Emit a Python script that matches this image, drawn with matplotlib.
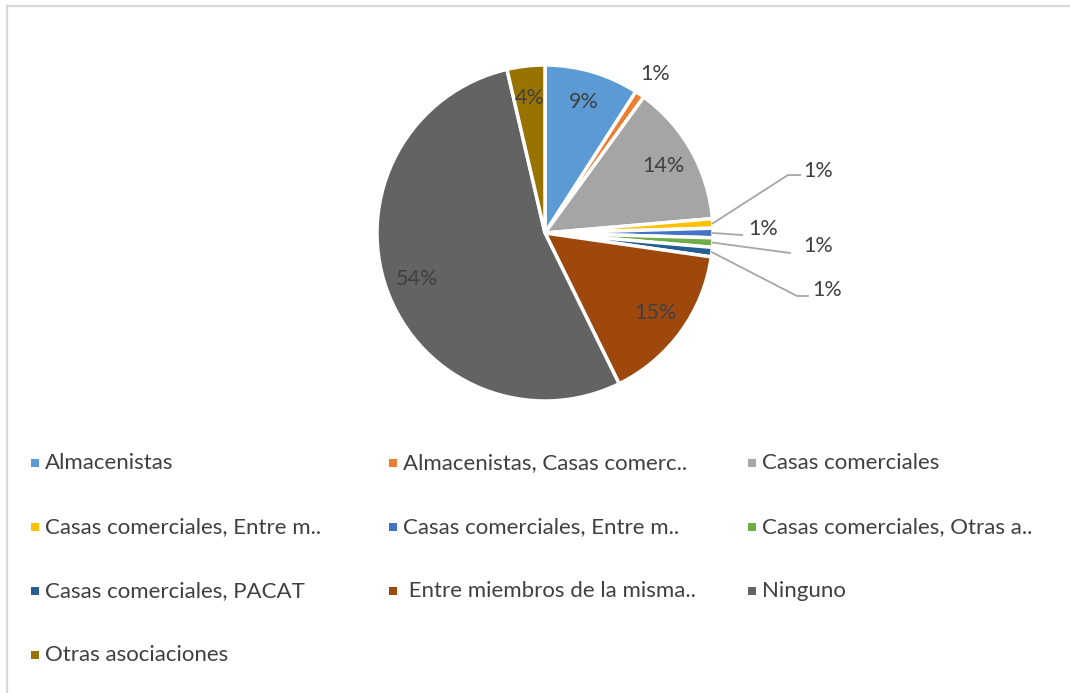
#-  Python 3 source code

#-  plot.py ~~
#
#   Pie chart of who the producers sell to / work with, redrawn from an
#   Excel-style picture: slices start at 12 o'clock and run clockwise,
#   small slices get their labels outside with leader lines.

import numpy as np
import matplotlib
matplotlib.use("Agg")
import matplotlib.pyplot as pyplot
from matplotlib.lines import Line2D
from matplotlib.patches import Rectangle

###

categories = [
    "Almacenistas",
    "Almacenistas, Casas comerc..",
    "Casas comerciales",
    "Casas comerciales, Entre m..",
    "Casas comerciales, Entre m..",
    "Casas comerciales, Otras a..",
    "Casas comerciales, PACAT",
    " Entre miembros de la misma..",
    "Ninguno",
    "Otras asociaciones",
]

counts = [10, 1, 15, 1, 1, 1, 1, 17, 59, 4]

colors = ["#5B9BD5", "#ED7D31", "#A5A5A5", "#FFC000", "#4472C4",
          "#70AD47", "#255E91", "#9E480E", "#636363", "#997300"]

###

TEXT = "#404040"
FONT = "Lato"

def main():

    fig = pyplot.figure(figsize=(10.70, 6.93), dpi=100)

  # Pie area: centre at (545, 233) px, radius 168 px

    W, H = 1070.0, 693.0
    cx, cy, r = 545.0, 233.0, 168.0
    ax = fig.add_axes([(cx - r) / W, (H - cy - r) / H, 2 * r / W, 2 * r / H])

    wedges, _ = ax.pie(counts, colors=colors, startangle=90, counterclock=False,
                       radius=1.0, wedgeprops=dict(edgecolor="white", linewidth=2.5))

  # pie() sets its own limits, so override them afterwards
    ax.set_xlim(-1, 1)
    ax.set_ylim(-1, 1)
    ax.set_aspect("equal")
    ax.axis("off")

    total = float(sum(counts))
    pct = ["%d%%" % round(100.0 * c / total) for c in counts]

  # Outside labels for the thin slices: (elbow, end of line, text position)
  # in pie units; None means no leader line.

    outside = {
        1: (None, None, (0.655, 0.946)),
        3: ((1.446, 0.345), (1.518, 0.345), (1.54, 0.37)),
        4: ((1.173, -0.012), None, (1.21, 0.024)),
        5: ((1.458, -0.119), None, (1.54, -0.077)),
        6: ((1.50, -0.375), (1.565, -0.375), (1.59, -0.34)),
    }

    for i, w in enumerate(wedges):
        mid = np.deg2rad((w.theta1 + w.theta2) / 2.0)
        if i in outside:
            elbow, end, tpos = outside[i]
            if elbow is not None:
                xs = [1.0 * np.cos(mid), elbow[0]]
                ys = [1.0 * np.sin(mid), elbow[1]]
                if end is not None:
                    xs.append(end[0])
                    ys.append(end[1])
                ax.plot(xs, ys, color="#A6A6A6", lw=1.3, clip_on=False)
                ax.text(tpos[0], tpos[1], pct[i], ha="left", va="center",
                        fontsize=15.5, color=TEXT, family=FONT, clip_on=False)
            else:
                ax.text(tpos[0], tpos[1], pct[i], ha="center", va="center",
                        fontsize=15.5, color=TEXT, family=FONT, clip_on=False)
        else:
            ax.text(0.81 * np.cos(mid), 0.81 * np.sin(mid), pct[i],
                    ha="center", va="center", fontsize=15.5, color=TEXT,
                    family=FONT)

  # Legend laid out row by row, three columns

    col_x = [35, 393, 752]
    row_y = [463, 527, 591, 655]
    for i, name in enumerate(categories):
        x = col_x[i % 3]
        y = row_y[i // 3]
        fig.patches.append(Rectangle(((x - 4) / W, (H - y - 4) / H),
                                     8 / W, 8 / H, transform=fig.transFigure,
                                     facecolor=colors[i], edgecolor="none"))
        fig.text((x + 10) / W, (H - y) / H, name, ha="left", va="center",
                 fontsize=16, color=TEXT, family=FONT)

  # Chart area border: only the top and left edges are visible

    fig.lines.append(Line2D([7 / W, 1.0], [(H - 6) / H, (H - 6) / H],
                            transform=fig.transFigure, color="#D9D9D9", lw=1.6))
    fig.lines.append(Line2D([7 / W, 7 / W], [0.0, (H - 6) / H],
                            transform=fig.transFigure, color="#D9D9D9", lw=1.6))

    fig.savefig("out.png", dpi=100)

###

if __name__ == "__main__":
    main()
